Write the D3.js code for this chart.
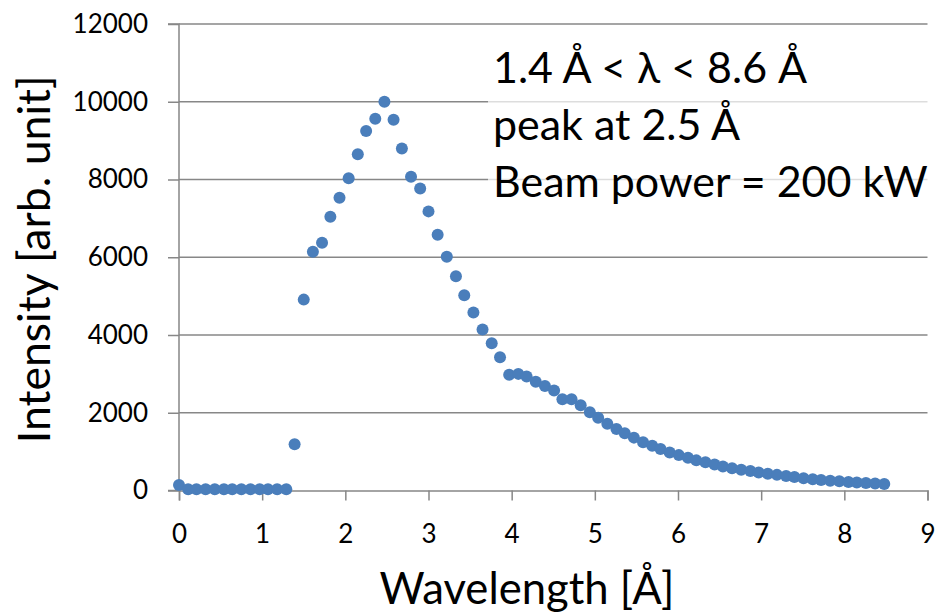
<!DOCTYPE html>
<html>
<head>
<meta charset="utf-8">
<script src="https://cdn.jsdelivr.net/npm/d3@7"></script>
<style>
  body { margin: 0; background: #fff; }
  svg text { font-family: Lato, "Open Sans", sans-serif; fill: #000; }
</style>
</head>
<body>
<div id="chart"></div>
<script>
// wavelength [Å]
var wavelength = [0, 0.11, 0.21, 0.32, 0.43, 0.54, 0.64, 0.75, 0.86, 0.97,
    1.07, 1.18, 1.29, 1.39, 1.50, 1.61, 1.72, 1.82, 1.93, 2.04,
    2.15, 2.25, 2.36, 2.47, 2.58, 2.68, 2.79, 2.90, 3.00, 3.11,
    3.22, 3.33, 3.43, 3.54, 3.65, 3.76, 3.86, 3.97, 4.08, 4.18,
    4.29, 4.40, 4.51, 4.61, 4.72, 4.83, 4.94, 5.04, 5.15, 5.26,
    5.36, 5.47, 5.58, 5.69, 5.79, 5.90, 6.01, 6.12, 6.22, 6.33,
    6.44, 6.54, 6.65, 6.76, 6.87, 6.97, 7.08, 7.19, 7.30, 7.40,
    7.51, 7.62, 7.72, 7.83, 7.94, 8.05, 8.15, 8.26, 8.37, 8.48];

// intensity [arb. unit]
var intensity = [140, 30, 30, 30, 30, 30, 30, 30, 30, 30,
    30, 30, 30, 1190, 4910, 6140, 6370, 7040, 7530, 8030,
    8650, 9250, 9560, 10000, 9540, 8800, 8070, 7770, 7180, 6580,
    6010, 5510, 5020, 4580, 4140, 3790, 3430, 2980, 3000, 2930,
    2800, 2690, 2570, 2350, 2350, 2190, 2010, 1870, 1720, 1580,
    1470, 1360, 1240, 1150, 1070, 980, 910, 840, 775, 725,
    670, 620, 575, 535, 500, 465, 432, 402, 373, 347,
    317, 290, 270, 253, 236, 219, 205, 193, 180, 167];

var xTicks = [0, 1, 2, 3, 4, 5, 6, 7, 8, 9];
var yTicks = [0, 2000, 4000, 6000, 8000, 10000, 12000];
var notes = ["1.4 Å < λ < 8.6 Å", "peak at 2.5 Å", "Beam power = 200 kW"];

var data = wavelength.map(function(d, i) { return { x: d, y: intensity[i] }; });

var W = 936, H = 613;
var margin = { top: 24, right: 8.5, bottom: 122.5, left: 179 },
    width = W - margin.left - margin.right,
    height = H - margin.top - margin.bottom;

var root = d3.select("#chart").append("svg")
    .attr("width", W)
    .attr("height", H);

var svg = root.append("g")
    .attr("transform", "translate(" + margin.left + "," + margin.top + ")");

var x = d3.scaleLinear().domain([0, 9]).range([0, width]);
var y = d3.scaleLinear().domain([0, 12000]).range([height, 0]);

// fit a text's font size so it spans a given width
function fit(sel, target) {
    var w = sel.node().getComputedTextLength();
    var fs = parseFloat(sel.attr("font-size"));
    sel.attr("font-size", fs * target / w);
}

var gridColor = "#878787";

// horizontal gridlines
svg.append("g")
    .selectAll("line")
    .data(yTicks.filter(function(d) { return d > 0; }))
    .enter()
    .append("line")
    .attr("x1", 0)
    .attr("x2", width)
    .attr("y1", function(d) { return y(d); })
    .attr("y2", function(d) { return y(d); })
    .attr("stroke", gridColor)
    .attr("stroke-width", 1.5);

// axes
var xAxis = svg.append("g")
    .attr("transform", "translate(0," + height + ")")
    .call(d3.axisBottom(x).tickValues(xTicks).tickSize(10).tickPadding(24).tickFormat(d3.format("d")));

var yAxis = svg.append("g")
    .call(d3.axisLeft(y).tickValues(yTicks).tickSize(11).tickPadding(20).tickFormat(d3.format("d")));

[xAxis, yAxis].forEach(function(g) {
    g.select(".domain").attr("stroke", gridColor).attr("stroke-width", 1.5);
    g.selectAll(".tick line").attr("stroke", gridColor).attr("stroke-width", 1.5);
    g.selectAll("text")
        .attr("font-family", "Lato, 'Open Sans', sans-serif")
        .attr("font-size", 26)
        .attr("fill", "#000");
});
yAxis.select(".domain").attr("d", "M-11," + height + "H0V0H-11");

// points
svg.append("g")
    .selectAll("circle")
    .data(data)
    .enter()
    .append("circle")
    .attr("cx", function(d) { return x(d.x); })
    .attr("cy", function(d) { return y(d.y); })
    .attr("r", 6)
    .attr("fill", "#4a7ebb");

// axis titles
var yTitle = root.append("text")
    .attr("transform", "translate(50," + (margin.top + height / 2 + 2) + ") rotate(-90)")
    .attr("text-anchor", "middle")
    .attr("font-size", 38)
    .text("Intensity [arb. unit]");
fit(yTitle, 368);

var xTitle = root.append("text")
    .attr("x", 527)
    .attr("y", 604)
    .attr("text-anchor", "middle")
    .attr("font-size", 38)
    .text("Wavelength [Å]");
fit(xTitle, 295);

// annotation box
root.append("rect")
    .attr("x", 488)
    .attr("y", 40)
    .attr("width", W - 488)
    .attr("height", 172)
    .attr("fill", "#fff")
    .attr("fill-opacity", 0.72);

var noteText = root.append("g")
    .selectAll("text")
    .data(notes)
    .enter()
    .append("text")
    .attr("x", 493)
    .attr("y", function(d, i) { return 83 + i * 57; })
    .attr("font-size", 38)
    .text(function(d) { return d; });

// size all notes from the widest line
var last = d3.select(noteText.nodes()[2]);
fit(last, 435);
noteText.attr("font-size", last.attr("font-size"));
</script>
</body>
</html>
